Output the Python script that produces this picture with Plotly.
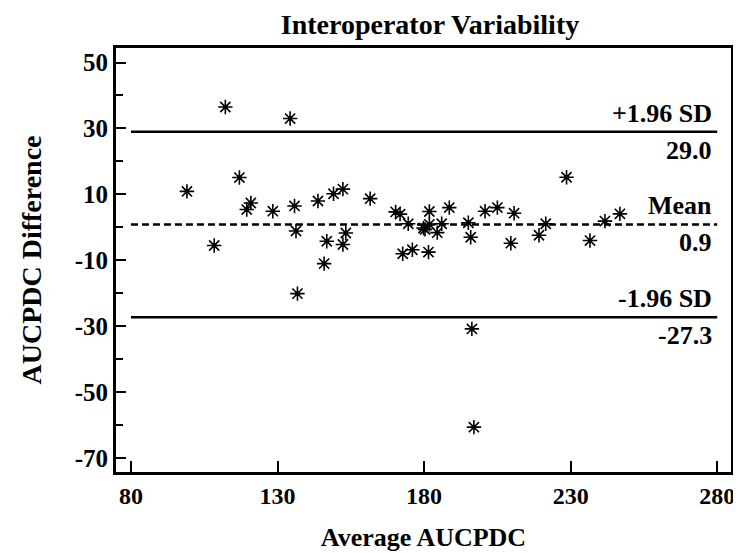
import plotly.graph_objects as go

# Data: average AUCPDC (x) vs difference (y)
avg_auc = [99.1, 112.2, 108.4, 117.0, 119.5, 120.9, 128.4, 134.3, 135.8, 136.3,
           136.8, 143.8, 146.8, 145.9, 149.1, 152.3, 152.3, 153.3, 161.6,
           170.3, 171.8, 174.6, 172.7, 176.0, 181.8, 180.3, 181.8, 181.5, 184.5,
           186.0, 188.6, 195.1, 195.9, 200.8, 205.0, 210.7, 209.6, 219.2, 221.5,
           228.6, 236.6, 241.7, 246.8, 196.3, 197.0, 179.8]
diff_auc = [10.9, 36.5, -5.5, 15.1, 5.4, 7.4, 4.9, 33.0, 6.5, -1.1,
            -20.1, 8.0, -4.2, -11.0, 10.2, 11.6, -5.2, -1.7, 8.7,
            4.7, 4.0, 1.1, -8.0, -6.8, 4.8, -0.6, 0.9, -7.5, -1.6,
            1.1, 6.0, 1.4, -3.0, 4.9, 6.0, 4.3, -4.8, -2.4, 1.1,
            15.2, -4.0, 1.9, 4.1, -30.8, -60.6, -0.2]

limit_values = [29.0, 0.9, -27.3]
limit_names = ["+1.96 SD", "Mean", "-1.96 SD"]
limit_texts = ["29.0", "0.9", "-27.3"]
limit_dash = ["solid", "7px,4px", "solid"]

x_ticks = [80, 130, 180, 230, 280]
y_ticks = [50, 30, 10, -10, -30, -50, -70]
y_minor = [40, 20, 0, -20, -40, -60]

FONT = "Liberation Serif"

fig = go.Figure()
fig.add_trace(go.Scatter(
    x=avg_auc, y=diff_auc, mode="markers",
    marker=dict(symbol="asterisk-open", size=12, color="black",
                line=dict(color="black", width=1.6)),
    showlegend=False, hoverinfo="skip"))
fig.add_trace(go.Scatter(
    x=avg_auc, y=diff_auc, mode="markers",
    marker=dict(symbol="square", size=4, color="black"),
    showlegend=False, hoverinfo="skip"))

x_start, x_end = x_ticks[0], x_ticks[-1]
for val, name, txt, dash in zip(limit_values, limit_names, limit_texts, limit_dash):
    fig.add_shape(type="line", xref="x", yref="y", x0=x_start, x1=x_end, y0=val, y1=val,
                  line=dict(color="black", width=2.5, dash=dash))
    fig.add_annotation(x=x_end, y=val, xref="x", yref="y", text=f"<b>{name}</b>",
                       showarrow=False, xanchor="right", yanchor="bottom",
                       xshift=-3, yshift=2,
                       font=dict(family=FONT, size=26, color="black"))
    fig.add_annotation(x=x_end, y=val, xref="x", yref="y", text=f"<b>{txt}</b>",
                       showarrow=False, xanchor="right", yanchor="top",
                       xshift=-3, yshift=-2,
                       font=dict(family=FONT, size=26, color="black"))

# The page body has an 8px margin, so the figure is sized to fit the window
W, H = 733, 545
fig.update_layout(
    width=W, height=H,
    margin=dict(l=108, r=10, t=40, b=81),
    paper_bgcolor="white", plot_bgcolor="white",
    font=dict(family=FONT, color="black"),
    title=dict(text="<b>Interoperator Variability</b>", xref="container", x=422 / W,
               xanchor="center", yref="container", y=1 - 16 / H, yanchor="middle",
               font=dict(family=FONT, size=28, color="black")),
)
fig.update_xaxes(
    range=[74.9, 284.7], tickvals=x_ticks, ticktext=[f"<b>{v}</b>" for v in x_ticks],
    ticks="inside", ticklen=11, tickwidth=2, tickcolor="black",
    showline=True, linewidth=3, linecolor="black", mirror=True,
    showgrid=False, zeroline=False, automargin=False,
    tickfont=dict(family=FONT, size=24, color="black"),
    title=dict(text="<b>Average AUCPDC</b>", standoff=21,
               font=dict(family=FONT, size=26, color="black")),
)
fig.update_yaxes(
    range=[-74.2, 54.4], tickvals=y_ticks, ticktext=[f"<b>{v}</b>" for v in y_ticks],
    ticks="inside", ticklen=10, tickwidth=2, tickcolor="black",
    minor=dict(tickvals=y_minor, ticks="inside", ticklen=7,
               tickwidth=2, tickcolor="black", showgrid=False),
    showline=True, linewidth=3, linecolor="black", mirror=True,
    showgrid=False, zeroline=False, automargin=False,
    tickfont=dict(family=FONT, size=25, color="black"),
    title=dict(text="<b>AUCPDC Difference</b>", standoff=25,
               font=dict(family=FONT, size=28, color="black")),
)

fig.write_html("out.html")
